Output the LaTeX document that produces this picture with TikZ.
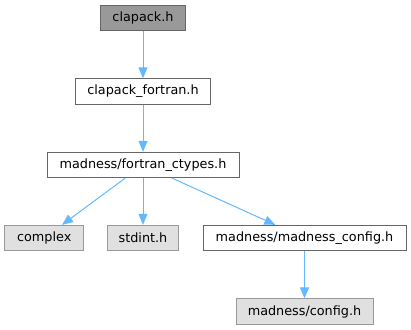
\documentclass[tikz,border=0pt]{standalone}
\usepackage{fontspec}
\setmainfont{DejaVu Sans}
\usetikzlibrary{arrows.meta}
\definecolor{edgeblue}{HTML}{63B8FF}
\definecolor{boxline}{HTML}{666666}
\definecolor{sysline}{HTML}{999999}
\definecolor{sysfill}{HTML}{E0E0E0}
\definecolor{curfill}{HTML}{999999}
\begin{document}
\begin{tikzpicture}[x=0.75pt,y=-0.75pt,
  file/.style={draw=boxline,fill=white,line width=0.75pt,minimum height=19pt,
    inner sep=0pt,font=\fontsize{9.6pt}{11pt}\selectfont},
  current/.style={file,fill=curfill,draw=boxline},
  sysfile/.style={file,fill=sysfill,draw=sysline},
  dep/.style={draw=edgeblue,line width=0.75pt,
    -{Triangle[length=8.25pt,width=6.75pt]}}]
  \useasboundingbox (0,0) rectangle (411,329);
  % include hierarchy, top to bottom
  \node[current,minimum width=63.75pt] (cl) at (143,18) {clapack.h};
  \node[file,minimum width=101.5pt] (cf) at (143,91.5) {clapack\_fortran.h};
  \node[file,minimum width=144pt] (ft) at (143,165) {madness/fortran\_ctypes.h};
  \node[sysfile,minimum width=59.25pt] (cx) at (44.2,238) {complex};
  \node[sysfile,minimum width=53.5pt] (si) at (143,238) {stdint.h};
  \node[file,minimum width=152.25pt] (mc) at (304.5,238) {madness/madness\_config.h};
  \node[sysfile,minimum width=102.75pt] (cg) at (304.5,311.5) {madness/config.h};
  % dependency edges
  \draw[dep] (cl) -- (cf);
  \draw[dep] (cf) -- (ft);
  \draw[dep] (ft) -- (cx);
  \draw[dep] (ft) -- (si);
  \draw[dep] (ft) -- (mc);
  \draw[dep] (mc) -- (cg);
\end{tikzpicture}
\end{document}
